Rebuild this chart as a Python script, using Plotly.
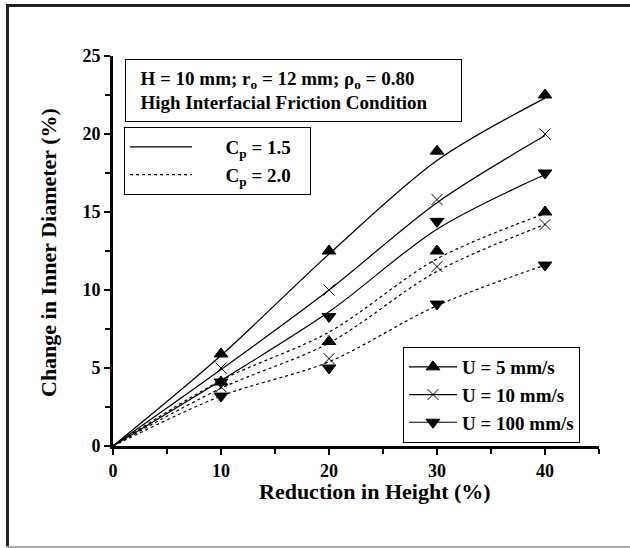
import plotly.graph_objects as go

# ---- data ----
reduction = [10, 20, 30, 40]
curve_x = [0, 10, 20, 30, 40]

# Cp = 1.5 markers
cp15_u5 = [5.9, 12.5, 18.9, 22.5]
cp15_u10 = [5.0, 10.0, 15.8, 20.0]
cp15_u100 = [4.1, 8.3, 14.4, 17.5]
# Cp = 2.0 markers
cp20_u5 = [4.1, 6.7, 12.5, 15.0]
cp20_u10 = [3.8, 5.6, 11.5, 14.2]
cp20_u100 = [3.2, 5.0, 9.1, 11.6]

# fitted curves
cp15_u5_fit = [0, 5.8, 12.3, 18.3, 22.3]
cp15_u10_fit = [0, 4.9, 10.0, 15.6, 19.9]
cp15_u100_fit = [0, 4.2, 8.6, 13.9, 17.4]
cp20_u5_fit = [0, 4.2, 7.3, 12.0, 14.9]
cp20_u10_fit = [0, 3.7, 6.6, 11.2, 14.2]
cp20_u100_fit = [0, 3.2, 5.4, 9.0, 11.6]

x_ticks = [0, 10, 20, 30, 40]
y_ticks = [0, 5, 10, 15, 20, 25]

FONT = "Liberation Serif"

# ---- layout geometry (pixels) ----
W, H = 630, 548
L, R, T, B = 113, 599, 56, 446


def px(x):
    return (x - L) / (R - L)


def py(y):
    return (B - y) / (B - T)


fig = go.Figure()

symbols = {"u5": "triangle-up", "u10": "x-thin-open", "u100": "triangle-down"}

fits = [
    (cp15_u5_fit, "solid"), (cp15_u10_fit, "solid"), (cp15_u100_fit, "solid"),
    (cp20_u5_fit, "dot"), (cp20_u10_fit, "dot"), (cp20_u100_fit, "dot"),
]
for yv, dash in fits:
    fig.add_trace(go.Scatter(
        x=curve_x, y=yv, mode="lines",
        line=dict(color="black", width=1.2, dash=dash, shape="spline", smoothing=0.9),
        showlegend=False, hoverinfo="skip"))

marks = [
    (cp15_u5, "u5"), (cp15_u10, "u10"), (cp15_u100, "u100"),
    (cp20_u5, "u5"), (cp20_u10, "u10"), (cp20_u100, "u100"),
]
for yv, key in marks:
    fig.add_trace(go.Scatter(
        x=reduction, y=yv, mode="markers",
        marker=dict(symbol=symbols[key], size=12 if key != "u10" else 11, color="black",
                    line=dict(color="black", width=1)),
        showlegend=False))

# legend entries for U
for name, key in [("U = 5 mm/s", "u5"), ("U = 10 mm/s", "u10"), ("U = 100 mm/s", "u100")]:
    fig.add_trace(go.Scatter(
        x=[None], y=[None], mode="lines+markers", name=name,
        line=dict(color="black", width=1.2),
        marker=dict(symbol=symbols[key], size=12 if key != "u10" else 11, color="black",
                    line=dict(color="black", width=1)),
        legend="legend"))

# legend entries for Cp
for name, dash in [("      C<sub>p</sub> = 1.5   ", "solid"), ("      C<sub>p</sub> = 2.0   ", "dot")]:
    fig.add_trace(go.Scatter(
        x=[None], y=[None], mode="lines", name=name,
        line=dict(color="black", width=1.2, dash=dash),
        legend="legend2"))

shapes = [
    dict(type="line", xref="paper", yref="paper", x0=px(7.5), x1=px(7.5), y0=py(4), y1=py(547),
         line=dict(color="#222222", width=3)),
    dict(type="line", xref="paper", yref="paper", x0=px(6), x1=px(630), y0=py(5.5), y1=py(5.5),
         line=dict(color="#222222", width=3)),
    dict(type="line", xref="paper", yref="paper", x0=px(6), x1=px(630), y0=py(547), y1=py(547),
         line=dict(color="#aaaaaa", width=2)),
]

annotations = [
    dict(xref="paper", yref="paper", x=px(125), y=py(59), xanchor="left", yanchor="top",
         text="&nbsp;&nbsp;H = 10 mm; r<sub>o</sub> = 12 mm; ρ<sub>o</sub> = 0.80<br>&nbsp;&nbsp;High Interfacial Friction Condition",
         showarrow=False, align="left", bordercolor="black", borderwidth=1, borderpad=5,
         bgcolor="white", width=325, height=51,
         font=dict(family=FONT, size=19, color="black", weight="bold")),
    dict(xref="paper", yref="paper", x=px(48), y=py(253), xanchor="center", yanchor="middle",
         text="Change in Inner Diameter (%)", textangle=-90, showarrow=False,
         font=dict(family=FONT, size=22, color="black", weight="bold")),
    dict(xref="paper", yref="paper", x=px(375), y=py(491), xanchor="center", yanchor="middle",
         text="Reduction in Height (%)", showarrow=False,
         font=dict(family=FONT, size=22, color="black", weight="bold")),
]

fig.update_layout(
    width=W, height=H,
    margin=dict(l=L, r=W - R, t=T, b=H - B),
    paper_bgcolor="white", plot_bgcolor="white",
    font=dict(family=FONT, color="black"),
    shapes=shapes, annotations=annotations,
    legend=dict(x=px(403), y=py(347), xanchor="left", yanchor="top",
                bordercolor="black", borderwidth=1, bgcolor="white",
                font=dict(family=FONT, size=19, color="black", weight="bold"),
                itemwidth=48, tracegroupgap=0),
    legend2=dict(x=px(124), y=py(127), xanchor="left", yanchor="top",
                 bordercolor="black", borderwidth=1, bgcolor="white",
                 font=dict(family=FONT, size=19, color="black", weight="bold"),
                 itemwidth=62),
    xaxis=dict(range=[0, 45], tickvals=x_ticks, showline=True, linewidth=3, linecolor="black",
               ticks="outside", ticklen=6, tickwidth=2, tickcolor="black",
               minor=dict(dtick=5, ticks="outside", ticklen=5, tickwidth=2, tickcolor="black"),
               showgrid=False, zeroline=False,
               tickfont=dict(family=FONT, size=18, color="black", weight="bold")),
    yaxis=dict(range=[0, 25], tickvals=y_ticks, showline=True, linewidth=3, linecolor="black",
               ticks="outside", ticklen=6, tickwidth=2, tickcolor="black",
               minor=dict(dtick=2.5, ticks="outside", ticklen=5, tickwidth=2, tickcolor="black"),
               showgrid=False, zeroline=False,
               tickfont=dict(family=FONT, size=18, color="black", weight="bold")),
)

fig.write_html("out.html")
